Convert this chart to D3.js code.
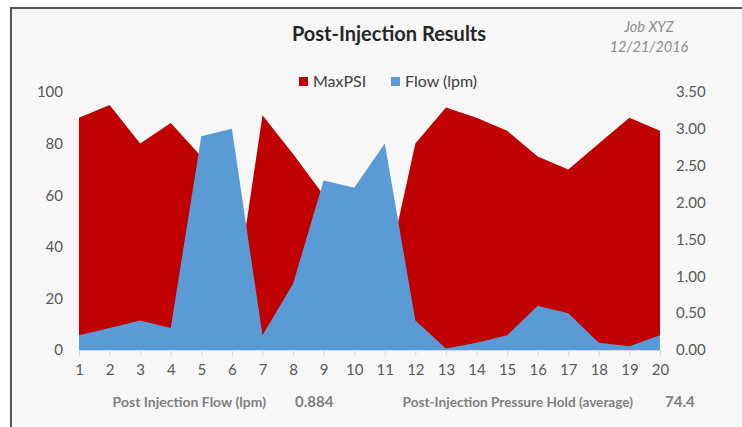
<!DOCTYPE html>
<html>
<head>
<meta charset="utf-8">
<script src="https://cdn.jsdelivr.net/npm/d3@7"></script>
<style>
  body { margin: 0; background: #fff; }
  svg { display: block; font-family: Lato, "Open Sans", sans-serif; }
</style>
</head>
<body>
<svg id="chart"></svg>
<script>
// Post-injection chart: MaxPSI (left axis) and Flow (right axis) as two areas

const runs = d3.range(1, 21);
const maxPsi = [90, 95, 80, 88, 75, 11, 91, 76, 60, 47, 26, 80, 94, 90, 85, 75, 70, 80, 90, 85];
const flow = [0.2, 0.3, 0.4, 0.3, 2.9, 3.0, 0.2, 0.9, 2.3, 2.2, 2.8, 0.4, 0.02, 0.1, 0.2, 0.6, 0.5, 0.1, 0.05, 0.2];
const psiTicks = [0, 20, 40, 60, 80, 100];
const flowTicks = [0, 0.5, 1, 1.5, 2, 2.5, 3, 3.5];
const summary = [
  { label: "Post Injection Flow (lpm)", value: "0.884" },
  { label: "Post-Injection Pressure Hold (average)", value: "74.4" }
];

const W = 742, H = 427;
const margin = { top: 92, right: 82, bottom: 77, left: 79 };
const width = W - margin.left - margin.right;
const height = H - margin.top - margin.bottom;

const svg = d3.select("#chart").attr("width", W).attr("height", H);

// chart frame
svg.append("rect")
  .attr("x", 11).attr("y", 8)
  .attr("width", W).attr("height", H)
  .attr("fill", "#f7f7f7")
  .attr("stroke", "#555").attr("stroke-width", 2);

const g = svg.append("g")
  .attr("transform", "translate(" + margin.left + "," + margin.top + ")");

const x = d3.scaleLinear().domain([1, 20]).range([0, width]);
const yL = d3.scaleLinear().domain([0, 100]).range([height, 0]);
const yR = d3.scaleLinear().domain([0, 3.5]).range([height, 0]);

const psiArea = d3.area()
  .x((d, i) => x(runs[i]))
  .y0(height)
  .y1(d => yL(d));

const flowArea = d3.area()
  .x((d, i) => x(runs[i]))
  .y0(height)
  .y1(d => yR(d));

g.append("path").datum(maxPsi).attr("d", psiArea).attr("fill", "#c00000");
g.append("path").datum(flow).attr("d", flowArea).attr("fill", "#5b9bd5");

// x axis
const xAxis = g.append("g")
  .attr("transform", "translate(0," + height + ")")
  .call(d3.axisBottom(x).tickValues(runs).tickFormat(d3.format("d")).tickSize(6).tickPadding(8));
xAxis.select(".domain").attr("stroke", "#d9d9d9");
xAxis.selectAll(".tick line").attr("stroke", "#d9d9d9");

// left axis
const leftAxis = g.append("g")
  .call(d3.axisLeft(yL).tickValues(psiTicks).tickSize(0).tickPadding(16));
leftAxis.select(".domain").remove();

// right axis
const rightAxis = g.append("g")
  .attr("transform", "translate(" + width + ",0)")
  .call(d3.axisRight(yR).tickValues(flowTicks).tickFormat(d3.format(".2f")).tickSize(0).tickPadding(16));
rightAxis.select(".domain").remove();

svg.selectAll(".tick text")
  .attr("fill", "#595959")
  .style("font-size", "15px")
  .style("font-family", "Lato, 'Open Sans', sans-serif");

// title
svg.append("text")
  .attr("x", 389).attr("y", 41)
  .attr("text-anchor", "middle")
  .attr("fill", "#262626")
  .style("font-size", "20px").style("font-weight", "bold")
  .text("Post-Injection Results");

svg.append("text")
  .attr("x", 649).attr("y", 32)
  .attr("text-anchor", "middle")
  .attr("fill", "#8c8c8c")
  .style("font-size", "14.5px").style("font-style", "italic")
  .text("Job XYZ");

svg.append("text")
  .attr("x", 649).attr("y", 52)
  .attr("text-anchor", "middle")
  .attr("fill", "#8c8c8c")
  .style("font-size", "14.5px").style("font-style", "italic")
  .text("12/21/2016");

// legend
const legend = [
  { name: "MaxPSI", color: "#c00000", x: 299 },
  { name: "Flow (lpm)", color: "#5b9bd5", x: 391 }
];
const lg = svg.selectAll(".legend").data(legend).enter().append("g")
  .attr("transform", d => "translate(" + d.x + ",77)");
lg.append("rect").attr("width", 9).attr("height", 9).attr("fill", d => d.color);
lg.append("text")
  .attr("x", 14).attr("y", 10)
  .attr("fill", "#404040")
  .style("font-size", "16px")
  .text(d => d.name);

// summary line under the chart
const sumX = [{ l: 266, v: 295, fs: 14 }, { l: 633, v: 665, fs: 13.6 }];
summary.forEach((s, i) => {
  svg.append("text")
    .attr("x", sumX[i].l).attr("y", 407)
    .attr("text-anchor", "end")
    .attr("fill", "#808080")
    .style("font-size", sumX[i].fs + "px").style("font-weight", "bold")
    .text(s.label);
  svg.append("text")
    .attr("x", sumX[i].v).attr("y", 407)
    .attr("fill", "#808080")
    .style("font-size", "15px").style("font-weight", "bold")
    .text(s.value);
});
</script>
</body>
</html>
